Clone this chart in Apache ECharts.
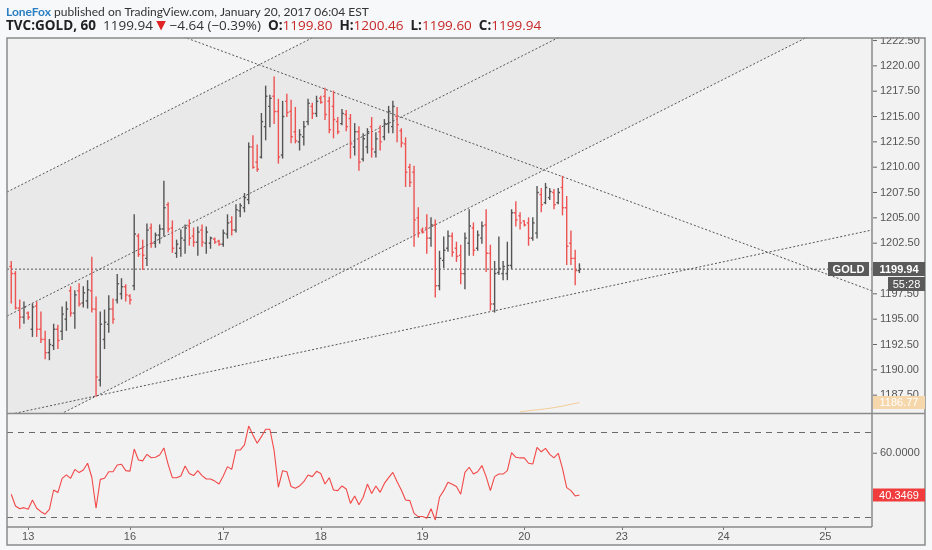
<!DOCTYPE html>
<html>
<head>
<meta charset="utf-8">
<script src="https://cdn.jsdelivr.net/npm/echarts@6/dist/echarts.min.js"></script>
<style>
html,body{margin:0;padding:0;background:#f7f8fa;}
#chart{width:932px;height:550px;}
</style>
</head>
<body>
<div id="chart"></div>
<script>
// hourly bars, TVC:GOLD 60, Jan 12 evening .. Jan 20 06:00 EST
var barOpen = [
  1200.2,1199.5,1196.1,1195.2,1195.6,1194.0,1196.3,1194.0,1193.0,1191.7,
  1192.4,1194.0,1193.8,1195.0,1197.8,1195.6,1197.8,1196.6,1196.8,1197.8,
  1196.0,1189.0,1193.0,1194.5,1196.0,1196.9,1197.5,1198.2,1197.3,1198.3,
  1203.2,1202.0,1201.0,1204.0,1202.5,1203.3,1203.9,1206.3,1204.0,1201.5,
  1202.0,1202.8,1204.2,1203.2,1202.6,1203.8,1202.5,1202.5,1202.9,1202.7,
  1202.4,1203.4,1204.6,1203.8,1205.7,1206.0,1206.8,1212.0,1210.5,1211.0,
  1214.0,1216.0,1217.0,1215.5,1211.2,1216.5,1215.5,1213.5,1212.5,1213.0,
  1214.5,1216.0,1215.3,1216.8,1217.0,1216.5,1216.0,1214.5,1214.3,1215.2,
  1214.8,1212.0,1213.5,1210.8,1212.0,1214.0,1211.5,1213.5,1213.0,1214.3,
  1214.0,1215.0,1213.6,1212.3,1210.0,1209.5,1205.0,1203.8,1204.0,1203.0,
  1204.3,1198.3,1200.8,1202.0,1203.2,1202.0,1201.3,1199.5,1202.5,1204.0,
  1202.0,1203.0,1204.3,1201.5,1196.5,1199.6,1199.5,1199.5,1200.3,1205.5,
  1205.2,1204.7,1204.5,1203.0,1203.5,1207.3,1206.5,1207.0,1207.5,1206.5,
  1208.0,1206.0,1202.5,1201.0,1199.80
];
var barHigh = [
  1200.7,1199.7,1196.9,1196.7,1195.7,1196.5,1196.7,1195.7,1193.8,1193.0,
  1194.5,1194.4,1196.2,1196.7,1198.2,1197.8,1198.5,1198.2,1198.8,1201.1,
  1197.2,1195.7,1195.9,1197.3,1197.0,1199.4,1199.0,1198.4,1197.4,1205.3,
  1203.4,1202.8,1204.4,1204.4,1203.5,1204.3,1208.6,1206.5,1204.7,1202.8,
  1203.8,1204.3,1204.8,1204.0,1204.1,1204.3,1204.1,1203.1,1203.0,1202.8,
  1203.8,1205.3,1205.1,1206.3,1206.4,1207.4,1212.4,1213.1,1212.2,1215.3,
  1218.0,1217.1,1218.9,1216.7,1216.5,1217.2,1216.6,1215.9,1213.7,1214.5,
  1216.7,1216.3,1217.0,1217.0,1217.8,1216.9,1217.5,1214.9,1215.7,1215.6,
  1215.2,1214.3,1214.0,1213.3,1213.8,1214.9,1213.4,1214.1,1214.7,1216.0,
  1216.5,1215.9,1213.8,1212.9,1210.3,1210.1,1206.0,1204.0,1205.3,1205.0,
  1204.8,1201.7,1203.1,1203.7,1203.5,1202.6,1202.3,1203.5,1205.8,1204.5,
  1203.7,1204.6,1205.8,1202.3,1200.7,1203.1,1200.7,1202.6,1205.8,1206.6,
  1205.5,1204.7,1205.0,1205.0,1208.1,1207.9,1208.4,1207.9,1207.8,1207.9,
  1209.1,1207.1,1203.7,1201.8,1200.46
];
var barLow = [
  1196.6,1196.0,1194.1,1194.6,1195.0,1193.3,1193.3,1192.7,1191.1,1191.0,
  1192.0,1192.1,1193.0,1193.9,1195.3,1194.1,1196.3,1196.2,1196.1,1195.7,
  1187.4,1188.4,1192.1,1193.7,1194.6,1196.6,1197.0,1196.8,1196.5,1197.9,
  1201.2,1199.9,1200.3,1202.1,1202.1,1202.5,1203.2,1203.6,1201.6,1201.1,
  1201.2,1201.5,1202.3,1202.2,1201.3,1202.2,1201.5,1202.0,1202.5,1202.3,
  1202.2,1203.0,1203.3,1203.6,1205.1,1205.6,1206.4,1209.9,1209.6,1210.9,
  1212.7,1214.0,1214.3,1210.4,1210.9,1215.0,1212.4,1212.4,1211.7,1212.2,
  1214.2,1214.8,1215.0,1216.3,1214.7,1213.4,1212.9,1213.3,1214.2,1213.6,
  1210.9,1211.2,1209.7,1210.6,1211.4,1211.0,1211.0,1211.7,1212.7,1213.4,
  1213.4,1212.5,1212.0,1208.1,1208.1,1202.2,1203.1,1203.5,1201.5,1202.2,
  1197.2,1197.9,1200.1,1201.7,1201.2,1200.7,1198.5,1198.0,1201.3,1201.3,
  1201.8,1202.5,1199.7,1195.9,1195.7,1199.4,1198.9,1198.9,1200.0,1204.2,
  1203.9,1204.2,1202.3,1202.8,1203.0,1205.6,1206.4,1206.8,1205.9,1206.4,
  1205.3,1200.4,1200.4,1198.4,1199.60
];
var barClose = [
  1199.5,1196.1,1195.2,1196.2,1195.2,1196.2,1194.0,1193.0,1191.7,1192.5,
  1194.0,1192.9,1195.5,1196.0,1195.6,1197.4,1196.5,1197.6,1197.9,1196.0,
  1189.3,1194.5,1194.7,1196.0,1195.0,1198.5,1198.2,1197.4,1196.9,1203.4,
  1201.4,1201.3,1203.8,1202.5,1203.3,1203.9,1206.0,1203.9,1202.0,1202.4,
  1203.0,1204.0,1203.0,1202.6,1203.6,1202.6,1203.6,1203.0,1202.6,1202.4,
  1203.5,1204.5,1203.8,1205.8,1206.2,1207.0,1212.0,1210.0,1209.8,1214.5,
  1217.0,1216.8,1215.5,1211.0,1215.0,1215.4,1213.0,1212.6,1213.2,1214.0,
  1216.3,1215.3,1216.5,1216.4,1215.2,1213.7,1214.7,1213.5,1215.3,1214.0,
  1212.3,1213.5,1210.5,1212.8,1213.5,1211.8,1212.8,1212.5,1214.3,1215.5,
  1216.0,1214.2,1212.4,1209.5,1208.5,1204.8,1203.5,1203.6,1203.0,1204.3,
  1198.3,1201.0,1201.8,1203.2,1201.6,1201.2,1199.5,1203.0,1204.2,1201.8,
  1203.3,1204.2,1201.5,1196.5,1199.5,1200.0,1200.2,1200.3,1205.5,1204.8,
  1204.5,1204.3,1203.0,1204.5,1207.5,1206.3,1208.0,1207.6,1206.3,1207.5,
  1206.0,1202.2,1201.0,1199.8,1199.94
];

// RSI(14) under the price pane
var rsiValues = [
  40.7,35.2,33.9,34.4,33.6,38.0,34.1,32.5,31.3,33.6,
  42.7,41.5,48.2,49.8,48.2,52.4,50.9,52.1,55.3,48.7,
  34.1,47.7,48.2,51.3,51.3,54.5,54.8,51.8,51.6,62.0,
  56.8,56.4,59.5,57.9,58.1,59.2,62.5,54.8,48.5,48.5,
  49.3,54.0,50.5,49.5,51.8,49.5,47.9,47.9,46.9,45.5,
  49.3,53.7,52.4,61.5,61.5,63.9,72.8,68.6,64.7,67.8,
  71.3,71.3,61.2,44.0,51.8,51.3,44.3,43.5,44.6,46.6,
  49.8,49.0,51.5,50.5,45.5,48.5,42.7,42.4,44.6,43.2,
  36.4,39.9,35.8,39.3,45.5,41.1,44.6,41.6,45.8,48.5,
  51.0,46.6,42.7,38.0,37.7,31.7,30.2,30.2,29.4,33.9,
  28.6,39.3,42.4,46.3,45.4,44.3,40.7,51.0,53.4,50.2,
  51.3,54.2,49.0,42.4,49.0,50.2,50.2,51.8,60.3,58.1,
  57.8,57.8,55.3,54.9,62.8,60.7,62.3,59.5,57.8,60.0,
  52.9,43.8,42.4,39.9,40.3469
];

// faint orange study line, only its tail reaches the pane
var maPoints = [[120,1185.85],[122,1185.97],[124,1186.05],[126,1186.15],[128,1186.27],[130,1186.42],[132,1186.6],[134,1186.77]];

// drawings, [bar index, price]
var channelUpper = [[-1,1207.55],[203,1250.66]];
var channelMid = [[-1,1195.31],[203,1238.42]];
var channelLower = [[-1,1182.96],[203,1226.07]];
var resistanceLine = [[30,1224.5],[203,1197.8]];
var supportLine = [[-1,1185.54],[203,1203.8]];

var dayTickIndex = [4,28,50,73,97,121,144,168,192];
var dayTickLabel = ['13','16','17','18','19','20','23','24','25'];
var priceTicks = [1187.5,1190,1192.5,1195,1197.5,1200,1202.5,1205,1207.5,1210,1212.5,1215,1217.5,1220,1222.5];
var rsiTicks = [60];

var lastPrice = 1199.94;
var lastRsi = 40.3469;
var maLast = 1186.77;
var countdown = '55:28';

var UP = '#555555', DOWN = '#ee5252', DOT = '#555555';
var AXIS_FONT = 'Liberation Sans';

var ohlcData = [];
for (var i = 0; i < barOpen.length; i++) {
  ohlcData.push([i, barOpen[i], barClose[i], barLow[i], barHigh[i]]);
}
var rsiData = [];
for (var i = 0; i < rsiValues.length; i++) {
  rsiData.push([i, rsiValues[i]]);
}

function renderOhlc(params, api) {
  var idx = api.value(0);
  var o = api.coord([idx, api.value(1)]);
  var c = api.coord([idx, api.value(2)]);
  var l = api.coord([idx, api.value(3)]);
  var h = api.coord([idx, api.value(4)]);
  var color = api.value(2) >= api.value(1) ? UP : DOWN;
  var x = h[0];
  var st = {stroke: color, lineWidth: 1.4};
  return {
    type: 'group',
    children: [
      {type: 'line', shape: {x1: x, y1: h[1] - 0.5, x2: x, y2: l[1] + 0.5}, style: st},
      {type: 'line', shape: {x1: x - 1.8, y1: o[1], x2: x, y2: o[1]}, style: st},
      {type: 'line', shape: {x1: x, y1: c[1], x2: x + 1.8, y2: c[1]}, style: st}
    ]
  };
}

function renderChannel(params, api) {
  var p = [
    api.coord(channelUpper[0]), api.coord(channelUpper[1]),
    api.coord(channelLower[1]), api.coord(channelLower[0])
  ];
  return {type: 'polygon', shape: {points: p}, style: {fill: '#e9e9e9'}};
}

function drawing(name, pts) {
  return {
    type: 'line', name: name, xAxisIndex: 0, yAxisIndex: 0,
    data: pts, symbol: 'none', clip: true, silent: true, z: 3,
    lineStyle: {color: DOT, width: 1, type: [2, 2]}
  };
}

var chart = echarts.init(document.getElementById('chart'));

var option = {
  animation: false,
  backgroundColor: '#f7f8fa',
  grid: [
    {left: 7, top: 38, width: 865, height: 375},
    {left: 7, top: 414, width: 865, height: 113}
  ],
  xAxis: [
    {type: 'value', gridIndex: 0, min: -1, max: 203,
      axisLine: {show: false}, axisTick: {show: false}, axisLabel: {show: false}, splitLine: {show: false}},
    {type: 'value', gridIndex: 1, min: -1, max: 203,
      axisLine: {show: false}, splitLine: {show: false},
      axisTick: {show: true, customValues: dayTickIndex, length: 3, lineStyle: {color: '#777'}},
      axisLabel: {customValues: dayTickIndex, color: '#555', fontSize: 11, fontFamily: AXIS_FONT, margin: 4,
        formatter: function (v) { return dayTickLabel[dayTickIndex.indexOf(v)]; }}}
  ],
  yAxis: [
    {type: 'value', gridIndex: 0, position: 'right', min: 1185.74, max: 1222.75,
      axisLine: {show: false}, splitLine: {show: false}, axisTick: {show: false},
      axisLabel: {customValues: priceTicks, color: '#555', fontSize: 11, fontFamily: AXIS_FONT, margin: 8,
        formatter: function (v) { return v.toFixed(2); }}},
    {type: 'value', gridIndex: 1, position: 'right', min: 25.29, max: 78.47,
      axisLine: {show: false}, splitLine: {show: false}, axisTick: {show: false},
      axisLabel: {customValues: rsiTicks, color: '#555', fontSize: 11, fontFamily: AXIS_FONT, margin: 8,
        formatter: function (v) { return v.toFixed(4); }}}
  ],
  series: [
    {type: 'custom', name: 'channel', xAxisIndex: 0, yAxisIndex: 0, renderItem: renderChannel,
      data: [[0, 1200]], clip: true, silent: true, z: 1},
    drawing('channelUpper', channelUpper),
    drawing('channelMid', channelMid),
    drawing('channelLower', channelLower),
    drawing('resistance', resistanceLine),
    drawing('support', supportLine),
    drawing('priceLine', [[-1, lastPrice], [203, lastPrice]]),
    {type: 'line', name: 'study', xAxisIndex: 0, yAxisIndex: 0, data: maPoints, symbol: 'none',
      clip: true, silent: true, lineStyle: {color: '#f1cd98', width: 1}},
    {type: 'custom', name: 'GOLD', xAxisIndex: 0, yAxisIndex: 0, renderItem: renderOhlc,
      data: ohlcData, encode: {x: 0, y: [1, 2, 3, 4]}, clip: true, z: 5},
    {type: 'line', name: 'RSI', xAxisIndex: 1, yAxisIndex: 1, data: rsiData, symbol: 'none',
      lineStyle: {color: '#f24848', width: 1.1}, z: 5,
      markLine: {silent: true, symbol: 'none', label: {show: false},
        lineStyle: {color: '#6a6a6a', type: [6, 5], width: 1},
        data: [{yAxis: 70}, {yAxis: 30}]}}
  ]
};
chart.setOption(option);

// labels on the price scale, scale ticks and frame
var yLast = chart.convertToPixel({yAxisIndex: 0}, lastPrice);
var yMa = chart.convertToPixel({yAxisIndex: 0}, maLast);
var yRsi = chart.convertToPixel({yAxisIndex: 1}, lastRsi);
var FRAME = '#8a8a8a';

function box(x, y, w, h, fill, text, bold) {
  return [
    {type: 'rect', shape: {x: x, y: y - h / 2, width: w, height: h}, style: {fill: fill}, z: 45},
    {type: 'text', x: x + w / 2, y: y + 0.5, z: 46,
      style: {text: text, fill: '#fff', align: 'center', verticalAlign: 'middle',
        font: (bold ? 'bold ' : '') + '11px ' + AXIS_FONT}}
  ];
}

var elements = [
  {type: 'rect', shape: {x: 7, y: 38, width: 918, height: 507}, style: {fill: '#f2f2f2'}, z: -10},
  {type: 'rect', shape: {x: 0, y: 0, width: 932, height: 37}, style: {fill: '#f7f8fa'}, z: 40},
  {type: 'rect', shape: {x: 7, y: 38, width: 918, height: 507}, style: {fill: 'none', stroke: FRAME, lineWidth: 1.5}, z: 44},
  {type: 'line', shape: {x1: 872, y1: 38, x2: 872, y2: 527}, style: {stroke: FRAME, lineWidth: 1.5}, z: 44},
  {type: 'line', shape: {x1: 7, y1: 413.5, x2: 925, y2: 413.5}, style: {stroke: FRAME, lineWidth: 1.5}, z: 44},
  {type: 'line', shape: {x1: 7, y1: 527, x2: 872, y2: 527}, style: {stroke: FRAME, lineWidth: 1.5}, z: 44},
  {type: 'text', x: 6, y: 12, z: 41,
    style: {text: '{u|LoneFox}{t| published on TradingView.com, January 20, 2017 06:04 EST}',
      verticalAlign: 'middle',
      rich: {
        u: {fill: '#2b7fc3', font: 'bold 12px Lato'},
        t: {fill: '#333', font: '12px Lato'}
      }}},
  {type: 'text', x: 6, y: 26, z: 41,
    style: {text: '{b|TVC:GOLD, 60}{n|  1199.94 }{r|\u25BC}{n| \u22124.64 (\u22120.39%)  }{b|O:}{v|1199.80}{b|  H:}{v|1200.46}{b|  L:}{v|1199.60}{b|  C:}{v|1199.94}',
      verticalAlign: 'middle',
      rich: {
        b: {fill: '#222', font: 'bold 13.5px "Open Sans"'},
        n: {fill: '#333', font: '13.5px "Open Sans"'},
        r: {fill: '#e02424', font: '12.5px "DejaVu Sans"'},
        v: {fill: '#c62828', font: '13.5px "Open Sans"'}
      }}}
];
for (var k = 0; k < priceTicks.length; k++) {
  var ty = chart.convertToPixel({yAxisIndex: 0}, priceTicks[k]);
  elements.push({type: 'line', shape: {x1: 873, y1: ty, x2: 877, y2: ty}, style: {stroke: '#666', lineWidth: 1}, z: 42});
}
for (var k = 0; k < rsiTicks.length; k++) {
  var ry = chart.convertToPixel({yAxisIndex: 1}, rsiTicks[k]);
  elements.push({type: 'line', shape: {x1: 873, y1: ry, x2: 877, y2: ry}, style: {stroke: '#666', lineWidth: 1}, z: 42});
}
elements = elements.concat(
  box(828, yLast, 41, 14, '#5a5a5a', 'GOLD', true),
  box(873, yLast, 52, 14, '#5a5a5a', lastPrice.toFixed(2), true),
  box(888, yLast + 15, 37, 14, '#5a5a5a', countdown, false),
  box(873, yMa, 52, 13, '#f6d7ab', maLast.toFixed(2), false),
  box(873, yRsi, 52, 13, '#f03c3c', lastRsi.toFixed(4), false)
);
chart.setOption({graphic: {elements: elements}});
</script>
</body>
</html>
